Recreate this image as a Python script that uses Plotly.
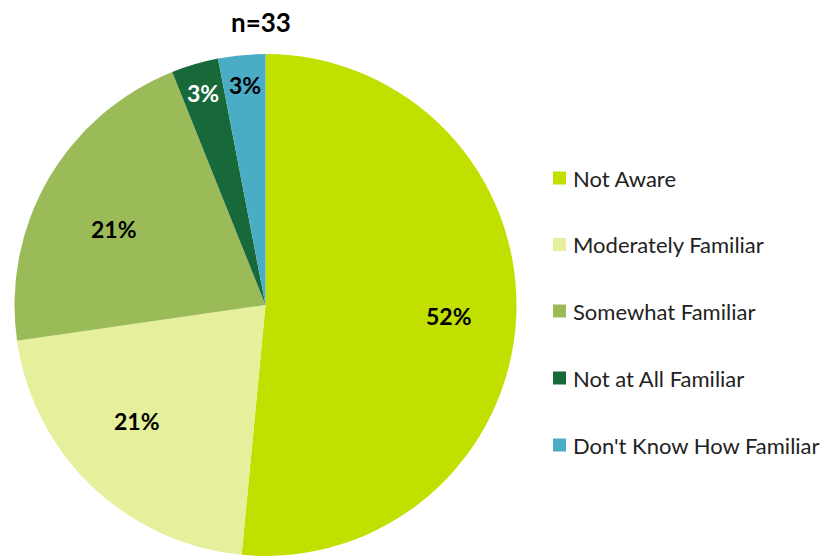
import math
import plotly.graph_objects as go

# Awareness survey responses (n=33)
labels = ["Not Aware", "Moderately Familiar", "Somewhat Familiar",
          "Not at All Familiar", "Don't Know How Familiar"]
counts = [17, 7, 7, 1, 1]
colors = ["#C1E000", "#E6EF9B", "#9BBB59", "#17693A", "#4BACC6"]
text_colors = ["#000000", "#000000", "#000000", "#FFFFFF", "#000000"]
# placement of each percentage label: fraction of the radius, and a small
# angular nudge (degrees) away from the slice's mid-angle
label_radius = [0.732, 0.69, 0.675, 0.879, 0.879]
label_turn = [0.7, 4.3, -3.4, 0.0, 0.0]

W, H = 829, 556
FONT = "Lato, 'Open Sans', sans-serif"

# pie placement in pixels
PX0, PX1, PY_TOP, PY_BOT = 14, 517, 54, 556
cx = (PX0 + PX1) / 2
cy = (PY_TOP + PY_BOT) / 2
R = min(PX1 - PX0, PY_BOT - PY_TOP) / 2

fig = go.Figure(go.Pie(
    labels=labels,
    values=counts,
    sort=False,
    direction="clockwise",
    rotation=0,
    marker=dict(colors=colors, line=dict(width=0)),
    textinfo="none",
    hoverinfo="label+value+percent",
    domain=dict(x=[PX0 / W, PX1 / W], y=[1 - PY_BOT / H, 1 - PY_TOP / H]),
    showlegend=False,
))

# Percentage labels placed around each slice's mid-angle
total = sum(counts)
cum = 0
for c, tc, rf, turn in zip(counts, text_colors, label_radius, label_turn):
    mid = (cum + c / 2) / total
    cum += c
    theta = 2 * math.pi * mid + math.radians(turn)
    lx = cx + rf * R * math.sin(theta)
    ly = cy - rf * R * math.cos(theta)
    fig.add_annotation(text=f"<b>{round(100 * c / total)}%</b>",
                       x=lx / W, y=1 - ly / H, xref="paper", yref="paper",
                       showarrow=False, xanchor="center", yanchor="middle",
                       font=dict(size=23, family=FONT, color=tc))

# Title
fig.add_annotation(text="<b>n=33</b>", x=261 / W, y=1 - 22 / H, xref="paper", yref="paper",
                   showarrow=False, font=dict(size=26, family=FONT, color="#000000"),
                   xanchor="center", yanchor="middle")

# Legend drawn as swatches and labels
leg_x0 = 553
leg_y = [178, 244.5, 311, 378, 445]
sw = 13
for lab, col, yc in zip(labels, colors, leg_y):
    fig.add_shape(type="rect", xref="paper", yref="paper",
                  x0=leg_x0 / W, x1=(leg_x0 + sw) / W,
                  y0=1 - (yc + sw / 2) / H, y1=1 - (yc - sw / 2) / H,
                  fillcolor=col, line=dict(width=0))
    fig.add_annotation(text=lab, x=(leg_x0 + sw + 5) / W, y=1 - yc / H,
                       xref="paper", yref="paper", showarrow=False,
                       xanchor="left", yanchor="middle",
                       font=dict(size=22, family=FONT, color="#222222"))

fig.update_layout(
    width=W, height=H,
    margin=dict(l=0, r=0, t=0, b=0),
    paper_bgcolor="white",
    plot_bgcolor="white",
)

fig.write_html("out.html")
